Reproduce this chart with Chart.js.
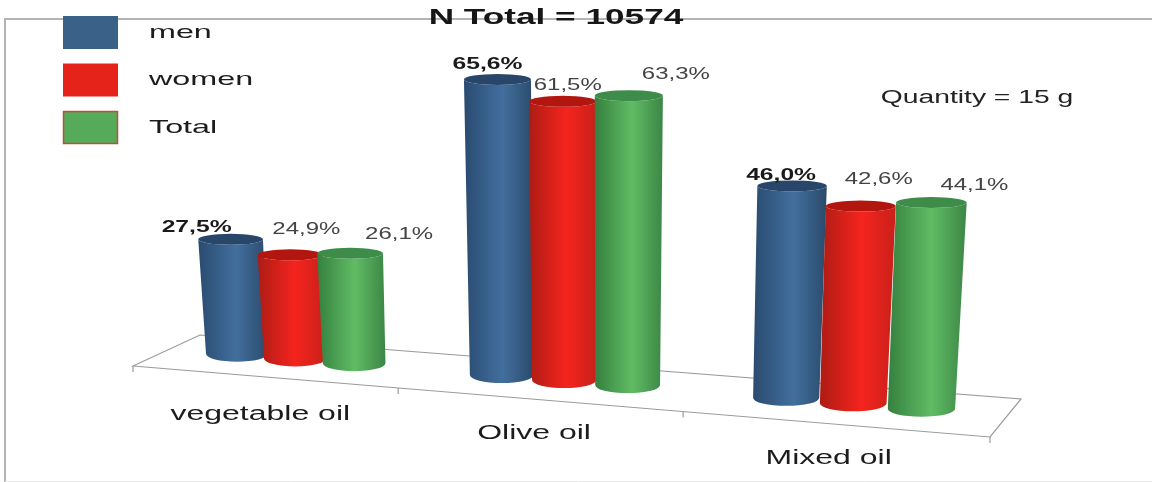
<!DOCTYPE html>
<html>
<head>
<meta charset="utf-8">
<title>Oil consumption</title>
<script src="https://cdn.jsdelivr.net/npm/chart.js@4/dist/chart.umd.min.js"></script>
<style>
html, body { margin: 0; padding: 0; background: #fff; }
canvas { display: block; }
</style>
</head>
<body>
<canvas id="myChart" width="1152" height="482"></canvas>
<script>
const categories = ['vegetable oil', 'Olive oil', 'Mixed oil'];
const men = [27.5, 65.6, 46.0];
const women = [24.9, 61.5, 42.6];
const total = [26.1, 63.3, 44.1];
const titleText = 'N Total = 10574';
const noteText = 'Quantity = 15 g';
const axisMin = 2;
const axisMax = 80;

// side gradient stops and lid colour for each cylinder
const shades = [
    { edge: '#2a4b70', mid: '#426f9e', end: '#2b4a6b', lid: '#27466a' },
    { edge: '#ad1c14', mid: '#f5241e', end: '#c8201a', lid: '#b2160f' },
    { edge: '#35803f', mid: '#60bc64', end: '#3c8646', lid: '#3e8c49' }
];
const legendColors = ['#3a6187', '#e5231b', '#56ab5b'];

// offset of each value label from the centre of its cylinder's lid
const labelOffsets = [
    [[-34, -12], [-10, -15], [-11, -11]],
    [[16, -26], [5, -16], [18, -27]],
    [[49, -19], [47, -21], [43, -17]]
];
const axisLabelOffsets = [[-3, 38], [-4, 34], [-5, 34]];

// floor of the 3D box: front left, front right, back right, back left
const floor = [[133, 366], [990, 437], [1021, 399], [200, 335]];
const barDepth = 0.5;

function makeProjection(q) {
    const dx1 = q[1][0] - q[2][0], dx2 = q[3][0] - q[2][0], dx3 = q[0][0] - q[1][0] + q[2][0] - q[3][0];
    const dy1 = q[1][1] - q[2][1], dy2 = q[3][1] - q[2][1], dy3 = q[0][1] - q[1][1] + q[2][1] - q[3][1];
    const den = dx1 * dy2 - dx2 * dy1;
    const g = (dx3 * dy2 - dx2 * dy3) / den;
    const h = (dx1 * dy3 - dx3 * dy1) / den;
    const a = q[1][0] - q[0][0] + g * q[1][0];
    const b = q[3][0] - q[0][0] + h * q[3][0];
    const d = q[1][1] - q[0][1] + g * q[1][1];
    const e = q[3][1] - q[0][1] + h * q[3][1];
    return function (u, v) {
        const w = g * u + h * v + 1;
        return { x: (a * u + b * v + q[0][0]) / w, y: (d * u + e * v + q[0][1]) / w, s: 1 / w };
    };
}
const project = makeProjection(floor);

// the text on this chart is wide, so it gets stretched along x
function wideText(ctx, text, x, y, font, color, stretch, align) {
    ctx.save();
    ctx.font = font;
    ctx.fillStyle = color;
    ctx.textBaseline = 'middle';
    ctx.textAlign = align || 'center';
    ctx.translate(x, y);
    ctx.scale(stretch, 1);
    ctx.fillText(text, 0, 0);
    ctx.restore();
}

function cylinderGeometry(chart, el) {
    const area = chart.chartArea;
    const u = (el.x - area.left) / area.width;
    const p = project(u, barDepth);
    const rBottom = el.width / 2 * p.s * 0.97;
    const rTop = rBottom * 1.05;
    const height = (el.base - el.y) * p.s * 0.973;
    // verticals converge a little towards the middle of the picture
    const lean = (p.x - 600) * 0.00015 * height;
    const by = p.y - 2;
    return { bx: p.x, by: by, tx: p.x + lean, ty: by - height, rBottom: rBottom, rTop: rTop };
}

function drawCylinder(ctx, c, shade) {
    const ryTop = 5.5, ryBottom = 8;
    const left = Math.min(c.tx - c.rTop, c.bx - c.rBottom);
    const right = Math.max(c.tx + c.rTop, c.bx + c.rBottom);
    const grad = ctx.createLinearGradient(left, 0, right, 0);
    grad.addColorStop(0, shade.edge);
    grad.addColorStop(0.55, shade.mid);
    grad.addColorStop(1, shade.end);

    ctx.beginPath();
    ctx.moveTo(c.tx - c.rTop, c.ty);
    ctx.lineTo(c.bx - c.rBottom, c.by);
    ctx.ellipse(c.bx, c.by, c.rBottom, ryBottom, 0, Math.PI, 0, true);
    ctx.lineTo(c.tx + c.rTop, c.ty);
    ctx.ellipse(c.tx, c.ty, c.rTop, ryTop, 0, 0, Math.PI, false);
    ctx.closePath();
    ctx.fillStyle = grad;
    ctx.fill();

    ctx.beginPath();
    ctx.ellipse(c.tx, c.ty, c.rTop, ryTop, 0, 0, Math.PI * 2);
    ctx.fillStyle = shade.lid;
    ctx.fill();
}

const cylinderPlugin = {
    id: 'cylinders',
    // frame, floor and axis text go underneath the cylinders
    beforeDatasetsDraw(chart) {
        const ctx = chart.ctx;
        const xScale = chart.scales.x;

        ctx.save();
        ctx.strokeStyle = '#b4b4b4';
        ctx.lineWidth = 2;
        ctx.beginPath();
        ctx.moveTo(5, 482);
        ctx.lineTo(5, 19);
        ctx.lineTo(1152, 19);
        ctx.stroke();
        ctx.strokeStyle = '#ececec';
        ctx.lineWidth = 1;
        ctx.beginPath();
        ctx.moveTo(5, 481.5);
        ctx.lineTo(1152, 481.5);
        ctx.stroke();

        ctx.strokeStyle = '#9a9a9a';
        ctx.lineWidth = 1.2;
        ctx.beginPath();
        floor.forEach((pt, i) => {
            if (i === 0) ctx.moveTo(pt[0], pt[1]);
            else ctx.lineTo(pt[0], pt[1]);
        });
        ctx.closePath();
        ctx.stroke();

        // tick marks at the category boundaries on the front edge
        for (let i = 0; i <= xScale.ticks.length; i++) {
            const p = project(i / xScale.ticks.length, 0);
            ctx.beginPath();
            ctx.moveTo(p.x, p.y);
            ctx.lineTo(p.x, p.y + 6);
            ctx.stroke();
        }
        ctx.restore();

        xScale.ticks.forEach((tick, i) => {
            const area = chart.chartArea;
            const p = project((xScale.getPixelForTick(i) - area.left) / area.width, 0);
            wideText(ctx, xScale.getLabelForValue(tick.value),
                p.x + axisLabelOffsets[i][0], p.y + axisLabelOffsets[i][1],
                '20px "Liberation Sans"', '#1c1c1c', 1.6);
        });

        wideText(ctx, noteText, 977, 98, '18px "Liberation Sans"', '#222', 1.57);
    },
    // the library paints the last dataset first, these need men at the back
    beforeDatasetDraw() {
        return false;
    },
    afterDatasetsDraw(chart) {
        const ctx = chart.ctx;
        chart.data.datasets.forEach((ds, i) => {
            chart.getDatasetMeta(i).data.forEach((el) => {
                drawCylinder(ctx, cylinderGeometry(chart, el), shades[i]);
            });
        });

        // title and legend
        wideText(ctx, titleText, 556, 18, 'bold 22px "Liberation Sans"', '#161616', 1.6);
        chart.data.datasets.forEach((ds, i) => {
            const top = 16 + i * 47.5;
            ctx.fillStyle = legendColors[i];
            ctx.fillRect(63, top, 55, 33);
            if (i === 2) {
                ctx.strokeStyle = '#c9483a';
                ctx.lineWidth = 1.5;
                ctx.strokeRect(63.5, top + 0.5, 54, 32);
            }
            wideText(ctx, ds.label, 149, top + 16.5, '19px "Liberation Sans"', '#1c1c1c', 1.7, 'left');
        });

        // value labels, men in bold
        chart.data.datasets.forEach((ds, i) => {
            chart.getDatasetMeta(i).data.forEach((el, j) => {
                const c = cylinderGeometry(chart, el);
                const text = ds.data[j].toFixed(1).replace('.', ',') + '%';
                const font = (i === 0 ? 'bold ' : '') + '17px "Liberation Sans"';
                const color = i === 0 ? '#1a1a1a' : '#444';
                wideText(ctx, text, c.tx + labelOffsets[i][j][0], c.ty + labelOffsets[i][j][1], font, color, i === 0 ? 1.45 : 1.41);
            });
        });
    }
};

function createChart() {
    const ctx = document.getElementById('myChart').getContext('2d');
    return new Chart(ctx, {
        type: 'bar',
        data: {
            labels: categories,
            datasets: [
                { label: 'men', data: men },
                { label: 'women', data: women },
                { label: 'Total', data: total }
            ]
        },
        options: {
            responsive: false,
            animation: false,
            base: axisMin,
            categoryPercentage: 0.677,
            barPercentage: 1,
            layout: { padding: { left: 133, right: 162, top: 51, bottom: 66 } },
            plugins: {
                legend: { display: false },
                title: { display: false },
                tooltip: { enabled: false }
            },
            scales: {
                x: { display: false },
                y: { display: false, min: axisMin, max: axisMax }
            }
        },
        plugins: [cylinderPlugin]
    });
}

createChart();
</script>
</body>
</html>
